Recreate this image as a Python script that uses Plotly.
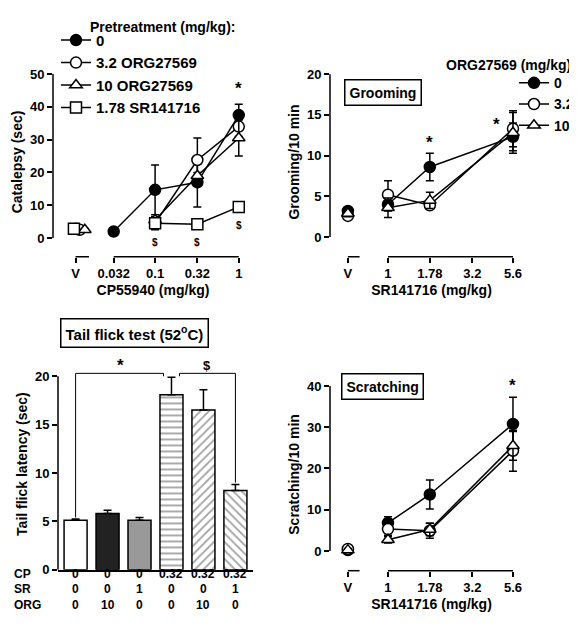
import math
import plotly.graph_objects as go

# ---------------- data ----------------
cat_doses = [0.032, 0.1, 0.32, 1]
cat_names = ["0", "3.2 ORG27569", "10 ORG27569", "1.78 SR141716"]
cat_V = [2.8, 2.5, 2.5, 2.8]
cat_vals = [[2.0, 14.7, 17.0, 37.5],
            [None, 4.5, 23.8, 34.0],
            [None, 5.5, 19.0, 30.5],
            [None, 4.5, 4.2, 9.5]]
cat_err = [[0.3, 7.6, 7.5, 3.3],
           [0, 2.0, 6.7, 3.0],
           [0, 1.0, 1.0, 5.5],
           [0, 0.5, 0.5, 1.5]]
cat_ticklabels = ["V", "0.032", "0.1", "0.32", "1"]
cat_yticks = [0, 10, 20, 30, 40, 50]

sr_doses = [1, 1.78, 5.6]
sr_ticks = [1, 1.78, 3.2, 5.6]
sr_ticklabels = ["V", "1", "1.78", "3.2", "5.6"]
org_names = ["0", "3.2", "10"]

groom_V = [3.2, 2.6, 2.9]
groom_vals = [[4.0, 8.6, 12.3], [5.2, 3.9, 13.3], [3.6, 4.5, 12.8]]
groom_err = [[0.8, 1.7, 1.7], [1.7, 0.4, 2.2], [1.2, 1.0, 2.5]]
groom_yticks = [0, 5, 10, 15, 20]

scr_V = [0.2, 0.5, 0.2]
scr_vals = [[6.8, 13.7, 30.8], [5.3, 4.9, 24.3], [2.7, 5.2, 25.5]]
scr_err = [[1.5, 3.5, 6.5], [1.5, 1.8, 5.0], [0.8, 1.5, 3.5]]
scr_yticks = [0, 10, 20, 30, 40]

tf_vals = [5.1, 5.8, 5.1, 18.1, 16.5, 8.2]
tf_err = [0.15, 0.35, 0.3, 1.8, 2.1, 0.6]
tf_yticks = [0, 5, 10, 15, 20]
tf_CP = ["0", "0", "0", "0.32", "0.32", "0.32"]
tf_SR = ["0", "0", "1", "0", "0", "1"]
tf_ORG = ["0", "10", "0", "0", "10", "0"]

# ---------------- style ----------------
W, H = 577, 624
FONT = "Liberation Sans"
def px_x(p): return p / W
def px_y(p): return 1 - p / H
def b(s): return "<b>%s</b>" % s

markers = [dict(symbol="circle", color="black"),
           dict(symbol="circle", color="white"),
           dict(symbol="triangle-up", color="white"),
           dict(symbol="square", color="white")]

fig = go.Figure()
CAT_V = -1.95
SR_V = -0.24

def add_series(xa, ya, vx, vv, doses, vals, errs, name, mk, legend, show):
    xs = [vx, None] + [math.log10(d) for d in doses]
    ys = [vv, None] + vals
    es = [0.4, 0] + errs
    fig.add_trace(go.Scatter(
        x=xs, y=ys, mode="lines+markers", name=b(name), connectgaps=False,
        xaxis=xa, yaxis=ya, legend=legend, showlegend=show,
        line=dict(color="black", width=1.5),
        marker=dict(size=11, symbol=mk["symbol"], color=mk["color"],
                    line=dict(color="black", width=1.5)),
        error_y=dict(type="data", array=es, color="black", thickness=1.5, width=4)))

for i in range(4):
    off = [0, 0.05, 0.11, -0.02][i]
    add_series("x", "y", CAT_V + off, cat_V[i], cat_doses, cat_vals[i], cat_err[i],
               cat_names[i], markers[i], "legend", True)
for i in range(3):
    add_series("x2", "y2", SR_V, groom_V[i], sr_doses, groom_vals[i], groom_err[i],
               org_names[i], markers[i], "legend2", True)
    add_series("x4", "y4", SR_V, scr_V[i], sr_doses, scr_vals[i], scr_err[i],
               org_names[i], markers[i], "legend2", False)

fig.add_trace(go.Bar(
    x=list(range(6)), y=tf_vals, xaxis="x3", yaxis="y3", showlegend=False, width=0.72,
    marker=dict(color=["white", "#222222", "#999999", "white", "white", "white"],
                line=dict(color="black", width=1.5),
                pattern=dict(shape=["", "", "", "-", "/", "\\"], fgcolor="#555555",
                             bgcolor="white", size=6, solidity=0.3)),
    error_y=dict(type="data", array=tf_err, arrayminus=[0]*6, symmetric=False,
                 color="black", thickness=1.5, width=4)))

tick = dict(family=FONT, size=13, color="black")
ttl = dict(family=FONT, size=14, color="black")
common = dict(showline=False, showgrid=False, zeroline=False, ticks="outside",
              ticklen=5, tickwidth=1.5, tickcolor="black", tickfont=tick)

cat_tv = [CAT_V] + [math.log10(d) for d in cat_doses]
sr_tv = [SR_V] + [math.log10(d) for d in sr_ticks]
def yt(vals): return dict(tickvals=vals, ticktext=[b(v) for v in vals])

fig.update_layout(
    width=W, height=H, margin=dict(l=0, r=0, t=0, b=0),
    plot_bgcolor="white", paper_bgcolor="white",
    font=dict(family=FONT, color="black"),
    xaxis=dict(common, domain=[px_x(45), px_x(245)], range=[-2.22, 0.17],
               tickvals=cat_tv, ticktext=[b(t) for t in cat_ticklabels], anchor="y",
               title=dict(text=b("CP55940 (mg/kg)"), font=ttl, standoff=4)),
    yaxis=dict(common, domain=[px_y(252), px_y(60)], range=[-5.72, 52.1],
               anchor="x", title=dict(text=b("Catalepsy (sec)"), font=ttl, standoff=4),
               **yt(cat_yticks)),
    xaxis2=dict(common, domain=[px_x(322), px_x(525)], range=[-0.347, 0.868],
                tickvals=sr_tv, ticktext=[b(t) for t in sr_ticklabels], anchor="y2",
                title=dict(text=b("SR141716 (mg/kg)"), font=ttl, standoff=4)),
    yaxis2=dict(common, domain=[px_y(252), px_y(60)], range=[-2.42, 20.85],
                anchor="x2", title=dict(text=b("Grooming/10 min"), font=ttl, standoff=4),
                **yt(groom_yticks)),
    xaxis3=dict(common, domain=[px_x(50), px_x(245)], range=[-0.55, 5.55],
                showticklabels=False, ticks="", anchor="y3",
                showline=True, linecolor="black", linewidth=1.5),
    yaxis3=dict(common, domain=[px_y(569), px_y(355)], range=[0, 21.84],
                anchor="x3", title=dict(text=b("Tail flick latency (sec)"), font=ttl, standoff=4),
                **yt(tf_yticks)),
    xaxis4=dict(common, domain=[px_x(322), px_x(525)], range=[-0.347, 0.868],
                tickvals=sr_tv, ticktext=[b(t) for t in sr_ticklabels], anchor="y4",
                title=dict(text=b("SR141716 (mg/kg)"), font=ttl, standoff=4)),
    yaxis4=dict(common, domain=[px_y(570), px_y(375)], range=[-4.79, 41.9],
                anchor="x4", title=dict(text=b("Scratching/10 min"), font=ttl, standoff=4),
                **yt(scr_yticks)),
    legend=dict(x=px_x(48), y=px_y(16), xanchor="left", yanchor="top",
                bgcolor="rgba(0,0,0,0)", tracegroupgap=0, itemwidth=30,
                font=dict(family=FONT, size=15, color="black")),
    legend2=dict(x=px_x(506), y=px_y(60), xanchor="left", yanchor="top",
                 bgcolor="rgba(0,0,0,0)", itemwidth=30,
                 font=dict(family=FONT, size=14, color="black")),
)

shapes = []
def seg(xref, yref, x0, x1):
    shapes.append(dict(type="line", xref=xref, yref=yref + " domain", x0=x0, x1=x1,
                       y0=0, y1=0, line=dict(color="black", width=1.5)))
def yline(xref, yref, y0, y1):
    shapes.append(dict(type="line", xref=xref + " domain", yref=yref, x0=0, x1=0,
                       y0=y0, y1=y1, line=dict(color="black", width=1.5)))
seg("x", "y", CAT_V, CAT_V + 0.16); seg("x", "y", math.log10(cat_doses[0]), 0)
yline("x", "y", 0, cat_yticks[-1])
for xa, ya, top in [("x2", "y2", groom_yticks[-1]), ("x4", "y4", scr_yticks[-1])]:
    seg(xa, ya, SR_V, SR_V + 0.07); seg(xa, ya, 0, math.log10(sr_ticks[-1]))
    yline(xa, ya, 0, top)
yline("x3", "y3", 0, tf_yticks[-1])
shapes.append(dict(type="path", xref="x3", yref="y3",
                   path="M 0,5.4 L 0,20.3 L 2.75,20.3 L 2.75,20.0",
                   line=dict(color="black", width=1)))
shapes.append(dict(type="path", xref="x3", yref="y3",
                   path="M 3.25,20.0 L 3.25,20.3 L 5,20.3 L 5,9.0",
                   line=dict(color="black", width=1)))
fig.update_layout(shapes=shapes)

ann = []
def txt(x, y, s, xref, yref, size=12, **kw):
    ann.append(dict(x=x, y=y, text=s, xref=xref, yref=yref, showarrow=False,
                    font=dict(family=FONT, size=size, color="black"), **kw))
txt(0, 45.5, b("*"), "x", "y", 17)
for xv, yv in [(math.log10(0.1), -1.5), (math.log10(0.32), -1.5), (0, 3.8)]:
    txt(xv, yv, b("$"), "x", "y", 10)
txt(math.log10(1.78), 11.6, b("*"), "x2", "y2", 17)
txt(math.log10(5.6) - 0.1, 13.8, b("*"), "x2", "y2", 17)
txt(math.log10(5.6), 40.2, b("*"), "x4", "y4", 17)
txt(1.4, 21.1, b("*"), "x3", "y3", 17)
txt(4.1, 21.1, b("$"), "x3", "y3", 13)
txt(px_x(80), px_y(9), b("Pretreatment (mg/kg):"), "paper", "paper", 14, xanchor="left")
txt(px_x(436), px_y(48), b("ORG27569 (mg/kg):"), "paper", "paper", 14, xanchor="left")
boxes = [(px_x(336), px_y(72), b("Grooming"), 14),
         (px_x(333), px_y(383), b("Scratching"), 14),
         (px_x(52), px_y(329), b("Tail flick test (52<sup>o</sup>C)"), 15)]
for bx, by, s, fs in boxes:
    ann.append(dict(x=bx, y=by, xref="paper", yref="paper", text=s, showarrow=False,
                    xanchor="left", font=dict(family=FONT, size=fs, color="black"),
                    bordercolor="black", borderwidth=1.5, borderpad=4, bgcolor="white"))
for row, (lab, vals) in enumerate([("CP", tf_CP), ("SR", tf_SR), ("ORG", tf_ORG)]):
    yy = px_y(582 + 16 * row)
    txt(px_x(4), yy, b(lab), "paper", "paper", 12, xanchor="left")
    for i, v in enumerate(vals):
        txt(i, yy, b(v), "x3", "paper", 12)
fig.update_layout(annotations=ann)

fig.write_html("out.html")
